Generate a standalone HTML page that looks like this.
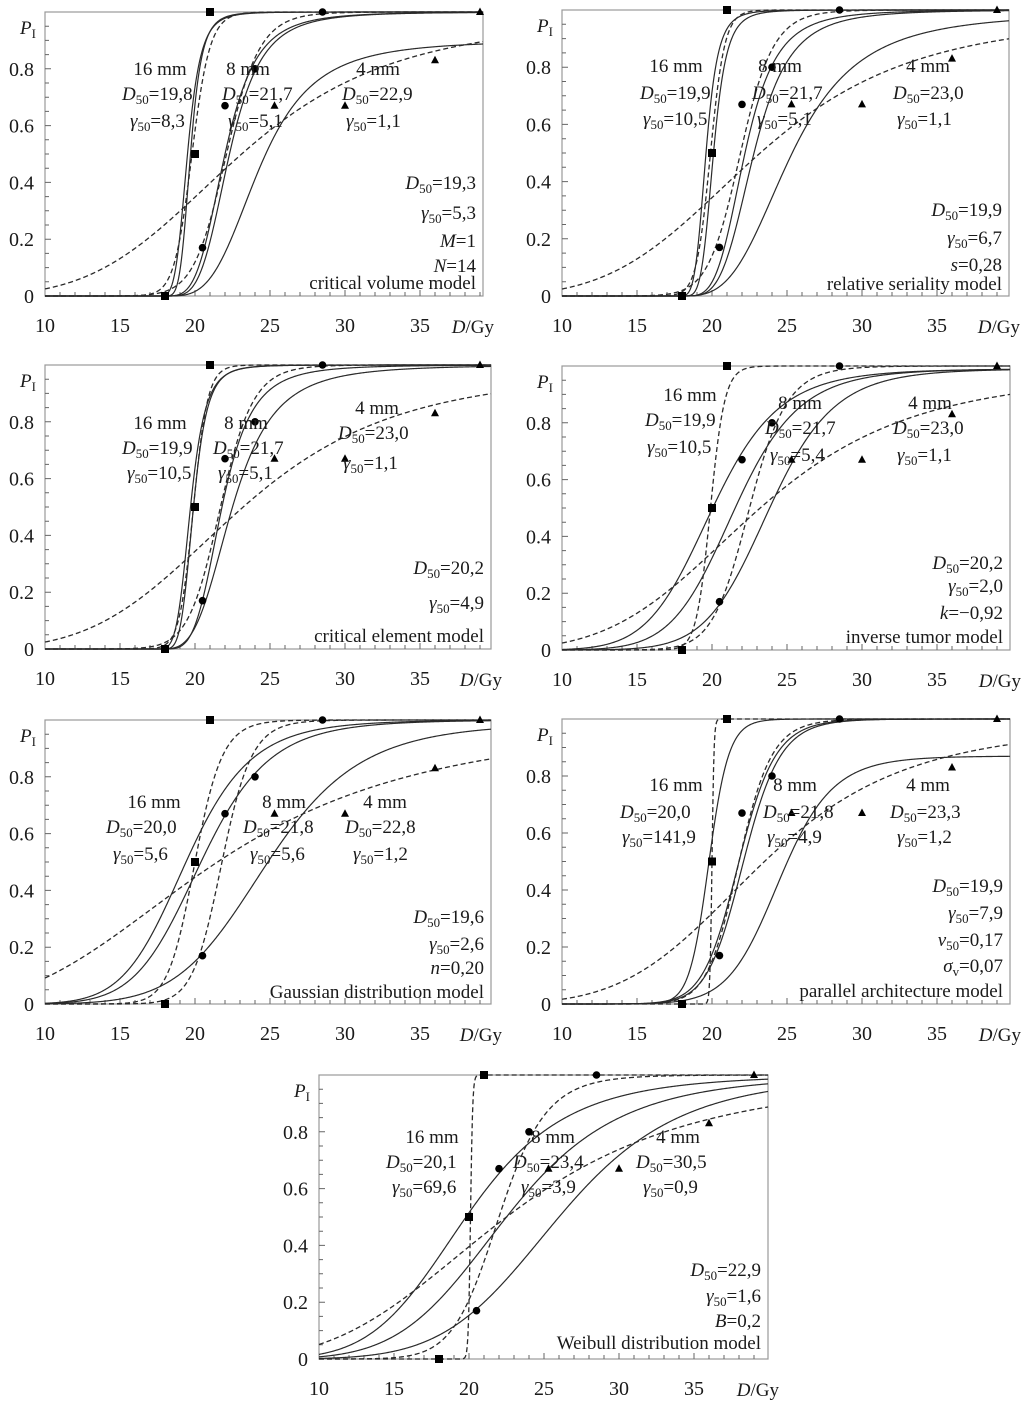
<!DOCTYPE html>
<html><head><meta charset="utf-8"><style>
html,body{margin:0;padding:0;background:#fff;}
svg{display:block;font-family:"Liberation Serif","DejaVu Serif",serif;}
</style></head><body>
<svg id="fig" width="1024" height="1402" viewBox="0 0 1024 1402" xmlns="http://www.w3.org/2000/svg"></svg>
<script>
// ---- measured data (same in every panel) ----
const sq16Dose = [18, 20, 21];
const sq16Prob = [0, 0.5, 1];
const ci8Dose = [20.5, 22, 24, 28.5];
const ci8Prob = [0.17, 0.67, 0.8, 1];
const tr4Dose = [25.3, 30, 36, 39];
const tr4Prob = [0.67, 0.67, 0.83, 1];
const xTickLabels = [10, 15, 20, 25, 30, 35];
const yTickLabels = [0, 0.2, 0.4, 0.6, 0.8];
// ---- fitted curves per panel: [D50, exponent, threshold, Pmax] ----
const solidCurves = [
  [[19.5,5,17.3,1],[19.7,5,17.8,1],[22,4,17.8,1],[22.3,4,18,1],[24.3,3.5,18,0.9]],
  [[19.6,5,17.6,1],[20.1,5,17.9,1],[22.2,4,18,1],[22.8,4,18,1],[25.3,3.3,17.8,0.99]],
  [[19.7,5,17.2,1],[19.9,5,17.6,1],[21.8,4,17.8,1],[22.5,3.5,17.6,1]],
  [[20,9,0,0.99],[21.5,10,0,0.99],[23.8,11,0,0.99]],
  [[19.4,9,0,1],[20.4,9,0,1],[24.8,8,0,0.99]],
  [[19.8,30,0,1],[21.8,18,0,1],[22.1,18,0,1],[24.5,14,0,0.87]],
  [[19.8,6,0,1],[22.5,6,0,1],[26,6.5,0,1]]
];
const dashedCurves = [
  [[19.8,33,0,1],[22.1,20,0,1],[22.9,4.4,0,0.98]],
  [[19.9,42,0,1],[21.9,20,0,1],[23,4.4,0,0.98]],
  [[19.9,42,0,1],[21.7,20,0,1],[23,4.4,0,0.98]],
  [[19.9,42,0,1],[22.5,18,0,1],[23,4.4,0,0.98]],
  [[20,22,0,1],[21.8,22,0,1],[21.5,3,0,1]],
  [[20,300,0,1],[21.8,20,0,1],[23.3,4.8,0,0.98]],
  [[20.1,280,0,1],[22,14,0,1],[22.5,3.6,0,1]]
];
// ---- text per panel ----
const sizeTitles = ["16 mm","8 mm","4 mm"];
const fitD50 = [["19,8","21,7","22,9"],["19,9","21,7","23,0"],["19,9","21,7","23,0"],["19,9","21,7","23,0"],["20,0","21,8","22,8"],["20,0","21,8","23,3"],["20,1","23,4","30,5"]];
const fitG50 = [["8,3","5,1","1,1"],["10,5","5,1","1,1"],["10,5","5,1","1,1"],["10,5","5,4","1,1"],["5,6","5,6","1,2"],["141,9","4,9","1,2"],["69,6","3,9","0,9"]];
const modelLines = [
  [[["D","i"],["50","s"],["=19,3",""]],[["γ","i"],["50","s"],["=5,3",""]],[["M","i"],["=1",""]],[["N","i"],["=14",""]],[["critical volume model",""]]],
  [[["D","i"],["50","s"],["=19,9",""]],[["γ","i"],["50","s"],["=6,7",""]],[["s","i"],["=0,28",""]],[["relative seriality model",""]]],
  [[["D","i"],["50","s"],["=20,2",""]],[["γ","i"],["50","s"],["=4,9",""]],[["critical element model",""]]],
  [[["D","i"],["50","s"],["=20,2",""]],[["γ","i"],["50","s"],["=2,0",""]],[["k","i"],["=−0,92",""]],[["inverse tumor model",""]]],
  [[["D","i"],["50","s"],["=19,6",""]],[["γ","i"],["50","s"],["=2,6",""]],[["n","i"],["=0,20",""]],[["Gaussian distribution model",""]]],
  [[["D","i"],["50","s"],["=19,9",""]],[["γ","i"],["50","s"],["=7,9",""]],[["ν","i"],["50","s"],["=0,17",""]],[["σ","i"],["v","s"],["=0,07",""]],[["parallel architecture model",""]]],
  [[["D","i"],["50","s"],["=22,9",""]],[["γ","i"],["50","s"],["=1,6",""]],[["B","i"],["=0,2",""]],[["Weibull distribution model",""]]]
];
const panelNames = ["critical-volume-panel","relative-seriality-panel","critical-element-panel","inverse-tumor-panel","gaussian-distribution-panel","parallel-architecture-panel","weibull-distribution-panel"];

// ---- layout ----
const panels = [
  {L:45,T:12,B:296,R:483,ox:0,oy:0},
  {L:562,T:10,B:296,R:1009,ox:517,oy:0},
  {L:45,T:365,B:649,R:491,ox:0,oy:353},
  {L:562,T:366,B:650,R:1010,ox:517,oy:353},
  {L:45,T:720,B:1004,R:491,ox:0,oy:709},
  {L:562,T:719,B:1004,R:1010,ox:517,oy:709},
  {L:319,T:1075,B:1359,R:768,ox:274,oy:1064}
];
const labelPos = [
  [[160,75,122,100,130,127],[248,75,222,100,228,127],[378,75,342,100,346,127]],
  [[159,72,123,99,126,125],[263,72,235,99,240,125],[411,72,376,99,380,125]],
  [[160,76,122,101,127,126],[246,76,213,101,218,126],[377,61,338,86,343,116]],
  [[173,48,128,73,130,100],[283,56,248,81,253,108],[413,56,376,81,380,108]],
  [[154,99,106,124,113,151],[284,99,243,124,250,151],[385,99,345,124,353,151]],
  [[159,82,103,109,105,134],[278,82,246,109,250,134],[411,82,373,109,380,134]],
  [[158,79,112,104,118,129],[279,79,239,104,247,129],[404,79,362,104,369,129]]
];
const modelBase = [[189,219,247,272,289],[216,244,271,290],[221,256,289],[216,239,266,290],[214,241,265,289],[183,210,237,263,288],[212,238,263,285]];

const NS = "http://www.w3.org/2000/svg";
const svg = document.getElementById('fig');
function mk(tag, parent){ const e=document.createElementNS(NS,tag); parent.appendChild(e); return e; }
function prob(d, c){ const D50=c[0],a=c[1],t=c[2],pm=c[3]; if(d<=t) return 0; return pm/(1+Math.pow((D50-t)/(d-t),a)); }
function richText(parent, segs, x, y, anchor, size){
  const t = mk('text', parent);
  t.setAttribute('x', x); t.setAttribute('y', y); t.setAttribute('font-size', size);
  t.setAttribute('text-anchor', anchor); t.setAttribute('fill', '#1a1a1a');
  let sub=false;
  segs.forEach(s=>{
    const sp = mk('tspan', t);
    sp.textContent = s[0];
    if(s[1]==='i') sp.setAttribute('font-style','italic');
    if(s[1]==='s'){ sp.setAttribute('font-size', size*0.68); sp.setAttribute('dy', 4); sub=true; }
    else if(sub){ sp.setAttribute('dy', -4); sub=false; }
  });
  return t;
}

panels.forEach((p, pi)=>{
  const g = mk('g', svg);
  
  
  const k = 15;
  const xs = d => p.L + (d-10)*k;
  const ys = v => p.B - v*(p.B-p.T);
  const xmax = 10 + (p.R-p.L)/k;
  const fr = mk('rect', g);
  
  
  fr.setAttribute('x', p.L); fr.setAttribute('y', p.T); fr.setAttribute('width', p.R-p.L); fr.setAttribute('height', p.B-p.T);
  fr.setAttribute('fill','none'); fr.setAttribute('stroke','#999'); fr.setAttribute('stroke-width','1.2');
  let tk='';
  for(let d=11; d<xmax; d++){ const x=xs(d); tk+=`M${x},${p.B}v-${d%5===0?6:4}`; }
  for(let v=0.05; v<0.99; v+=0.05){ const y=ys(v); tk+=`M${p.L},${y}h${Math.abs(Math.round(v*20)%4)<0.5?6:4}`; }
  const tp = mk('path', g);
  
  
  tp.setAttribute('d', tk); tp.setAttribute('stroke','#666'); tp.setAttribute('stroke-width','1');
  xTickLabels.forEach(v=>{
    const t = mk('text', g);
    
    
    t.setAttribute('x', xs(v)); t.setAttribute('y', p.B+36); t.setAttribute('font-size', 20);
    t.setAttribute('text-anchor','middle'); t.setAttribute('fill','#1a1a1a');
    t.textContent = v;
  });
  yTickLabels.forEach(v=>{
    const t = mk('text', g);
    
    
    t.setAttribute('x', p.L-11); t.setAttribute('y', ys(v)+7); t.setAttribute('font-size', 20);
    t.setAttribute('text-anchor','end'); t.setAttribute('fill','#1a1a1a');
    t.textContent = v===0 ? '0' : v.toFixed(1);
  });
  const yt = richText(g, [["P","i"],["I","s"]], p.L-25, p.T+22, 'start', 19);
  
  
  const xt = richText(g, [["D","i"],["/Gy",""]], p.R+11, p.B+37, 'end', 19);
  
  
  function curve(c, dashed){
    let d='';
    for(let i=0;i<=600;i++){ const D=10+(xmax-10)*i/600; const y=ys(prob(D,c)); d+=(i?'L':'M')+xs(D).toFixed(2)+','+y.toFixed(2); }
    const pa = mk('path', g);
    
    
    pa.setAttribute('d', d); pa.setAttribute('fill','none'); pa.setAttribute('stroke', '#2a2a2a');
    pa.setAttribute('stroke-width', dashed?1.3:1.2);
    if(dashed) pa.setAttribute('stroke-dasharray','5,3');
  }
  solidCurves[pi].forEach(c=>curve(c,false));
  dashedCurves[pi].forEach(c=>curve(c,true));
  sq16Dose.forEach((d,i)=>{
    const r = mk('rect', g);
    
    
    r.setAttribute('x', xs(d)-4); r.setAttribute('y', ys(sq16Prob[i])-4); r.setAttribute('width',8); r.setAttribute('height',8); r.setAttribute('fill','#000');
  });
  ci8Dose.forEach((d,i)=>{
    const c = mk('circle', g);
    
    
    c.setAttribute('cx', xs(d)); c.setAttribute('cy', ys(ci8Prob[i])); c.setAttribute('r', 3.8); c.setAttribute('fill','#000');
  });
  tr4Dose.forEach((d,i)=>{
    const x=xs(d), y=ys(tr4Prob[i]);
    const t = mk('polygon', g);
    
    
    t.setAttribute('points', `${x},${y-4.5} ${x-4},${y+3} ${x+4},${y+3}`); t.setAttribute('fill','#000');
  });
  labelPos[pi].forEach((lp,si)=>{
    const a = richText(g, [[sizeTitles[si],""]], lp[0]+p.ox, lp[1]+p.oy, 'middle', 19);
    
    
    const b = richText(g, [["D","i"],["50","s"],["="+fitD50[pi][si],""]], lp[2]+p.ox, lp[3]+p.oy, 'start', 19);
    
    
    const c = richText(g, [["γ","i"],["50","s"],["="+fitG50[pi][si],""]], lp[4]+p.ox, lp[5]+p.oy, 'start', 19);
    
    
  });
  modelLines[pi].forEach((segs, li)=>{
    const t = richText(g, segs, p.R-7, modelBase[pi][li]+p.oy, 'end', 19);
    
    
  });
});
</script>
</body></html>
